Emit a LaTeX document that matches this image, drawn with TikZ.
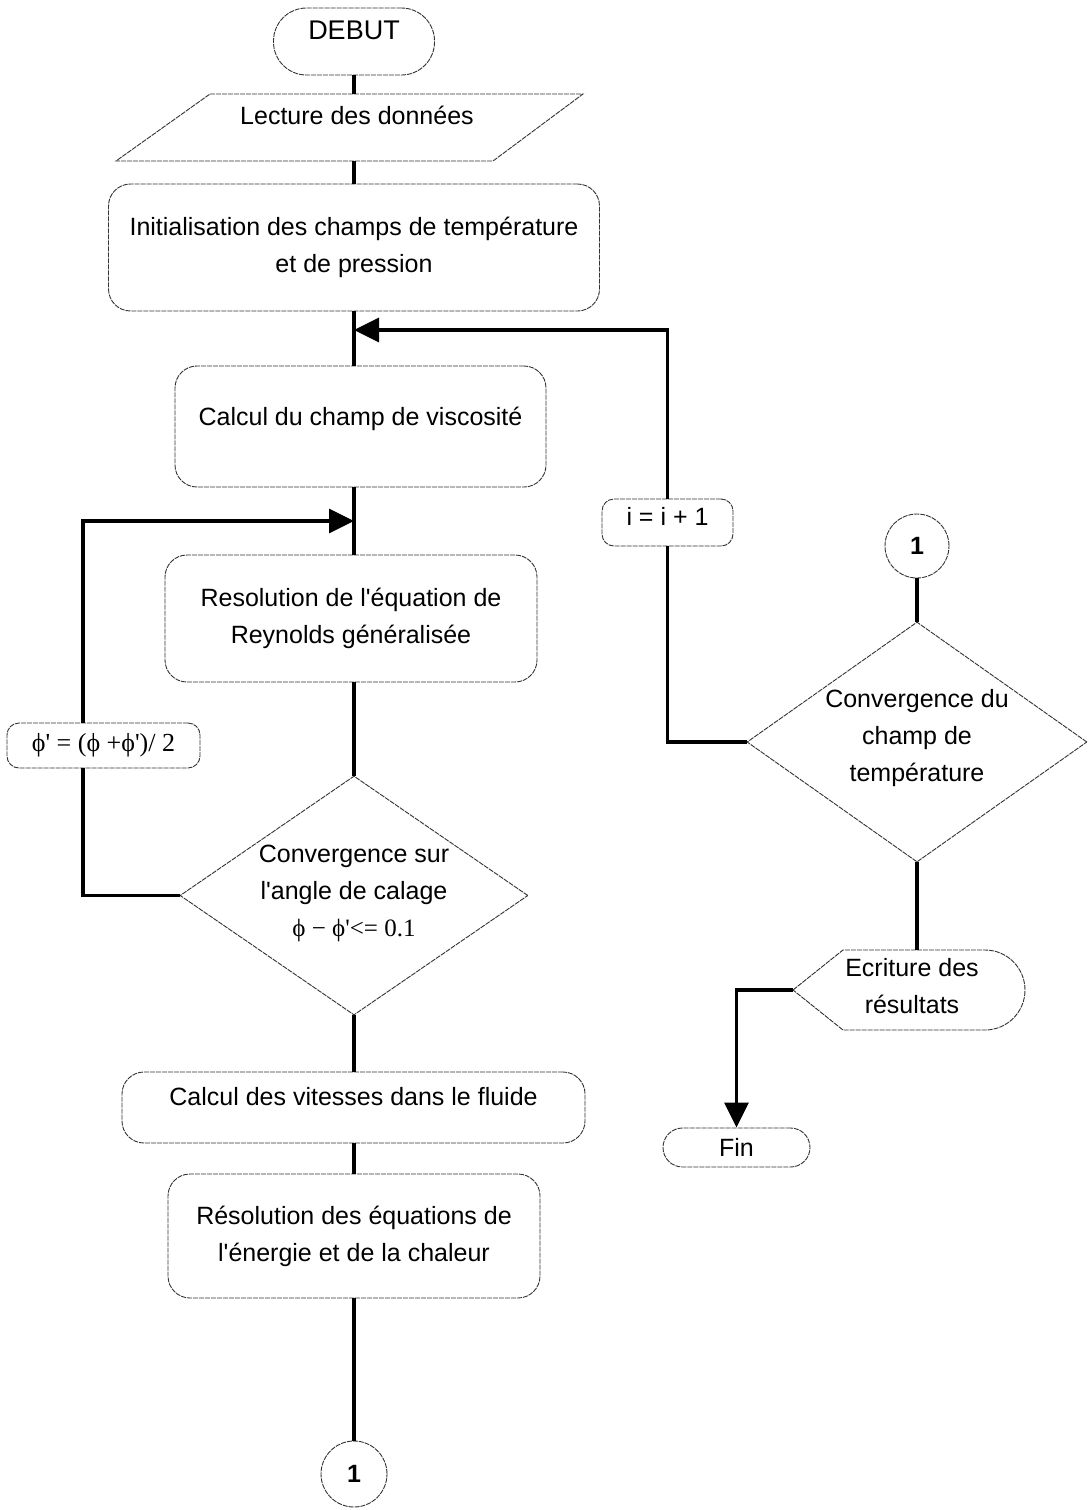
\documentclass[tikz,border=0pt]{standalone}
\usepackage{fontspec}
\setmainfont{Liberation Sans}
\newfontfamily\tnr{Liberation Serif}
\usetikzlibrary{shapes.geometric,arrows.meta}
\newcommand{\apos}{\textquotesingle}
\tikzset{
  outline/.style={draw=black!80, line width=0.9pt, dash pattern=on 5pt off 1pt},
  box/.style={outline, rectangle, rounded corners=22pt, align=center, inner sep=0pt, font=\fontsize{25}{37}\selectfont},
  txt/.style={align=center, inner sep=0pt, font=\fontsize{25}{37}\selectfont},
  conn/.style={draw=black, line width=3.2pt},
  arr/.style={conn, -{Triangle[length=25pt,width=24pt]}},
  decision/.style={outline, diamond, inner sep=0pt},
  connector/.style={outline, circle, inner sep=0pt, font=\fontsize{25}{30}\selectfont\bfseries}
}
\begin{document}
\begin{tikzpicture}[x=1pt,y=-1pt]
\useasboundingbox (0,0) rectangle (1090,1510);
\fill[white] (0,0) rectangle (1090,1510);

% start
\node[box, rounded corners=33pt, minimum width=161pt, minimum height=67pt, text depth=22pt, font=\fontsize{27}{30}\selectfont] (debut) at (354,41.5) {DEBUT};

% input parallelogram
\coordinate (lecA) at (210,94);
\coordinate (lecB) at (583,94);
\coordinate (lecC) at (493,161);
\coordinate (lecD) at (116,161);
\coordinate (lectop) at (354,94);
\coordinate (lecbot) at (354,161);
\draw[outline] (lecA) -- (lecB) -- (lecC) -- (lecD) -- cycle;
\node[txt] (lecture) at (357,115) {Lecture des données};

\node[box, minimum width=491pt, minimum height=127pt] (init) at (354,247.5) {Initialisation des champs de température\\et de pression};

\node[box, minimum width=371pt, minimum height=121pt, text depth=20pt] (visc) at (360.5,426.5) {Calcul du champ de viscosité};

\node[box, minimum width=372pt, minimum height=127pt] (reyn) at (351,618.5) {Resolution de l\apos équation de\\Reynolds généralisée};

\node[decision, minimum width=348pt, minimum height=239pt] (d1) at (354,895.5) {};
\node[txt] (d1text) at (354,893) {Convergence sur\\l\apos angle de calage\\{\tnr ϕ − ϕ\apos<= 0.1}};

\node[box, minimum width=463pt, minimum height=71pt, text depth=22pt] (vit) at (353.5,1107.5) {Calcul des vitesses dans le fluide};

\node[box, minimum width=372pt, minimum height=124pt] (res) at (354,1236) {Résolution des équations de\\l\apos énergie et de la chaleur};

\node[connector, minimum size=66pt] (c1) at (354,1474) {1};

% feedback boxes
\node[box, rounded corners=12pt, minimum width=193pt, minimum height=45pt, font=\fontsize{26}{30}\selectfont\tnr] (phi) at (103.5,745.5) {ϕ\apos{} = (ϕ +ϕ\apos)/ 2};
\node[box, rounded corners=12pt, minimum width=131pt, minimum height=47pt, text depth=12pt] (iinc) at (667.5,522.5) {i = i + 1};
\coordinate (lx) at (83,0);

% right column
\node[connector, minimum size=64pt] (c2) at (917,546) {1};
\node[decision, minimum width=340pt, minimum height=240pt] (d2) at (917,742) {};
\node[txt] (d2text) at (917,738) {Convergence du\\champ de\\température};

\coordinate (eL) at (793,990);
\coordinate (eTL) at (843,950);
\coordinate (eTR) at (985,950);
\coordinate (eBR) at (985,1030);
\coordinate (eBL) at (843,1030);
\coordinate (ecrtop) at (917,950);
\draw[outline] (eL) -- (eTL) -- (eTR) arc[start angle=90, end angle=-90, radius=40pt] -- (eBL) -- cycle;
\node[txt] (ecr) at (912,986) {Ecriture des\\résultats};

\node[box, rounded corners=19.5pt, minimum width=147pt, minimum height=39pt] (fin) at (736.5,1147.5) {Fin};

% junction points
\coordinate (j1) at (354,330);
\coordinate (j2) at (354,521);

% main connectors
\draw[conn] (debut.south) -- (lectop);
\draw[conn] (lecbot) -- (init.south |- lecbot) -- (init.north);
\draw[conn] (init.south) -- (init.south |- visc.north);
\draw[conn] (init.south |- visc.south) -- (reyn.north -| init.south);
\draw[conn] (reyn.south -| d1.north) -- (d1.north);
\draw[conn] (d1.south) -- (d1.south |- vit.north);
\draw[conn] (vit.south -| res.north) -- (res.north);
\draw[conn] (res.south) -- (c1.north);

% inner loop
\draw[conn] (d1.west) -- (lx |- d1.west) -- (lx |- phi.south);
\draw[arr] (lx |- phi.north) -- (lx |- j2) -- (j2);

% outer loop
\draw[conn] (d2.west) -- (iinc.south |- d2.west) -- (iinc.south);
\draw[arr] (iinc.north) -- (iinc.north |- j1) -- (j1);

% right column connectors
\draw[conn] (c2.south) -- (d2.north);
\draw[conn] (d2.south) -- (ecrtop);
\draw[arr] (eL) -- (fin.north |- eL) -- (fin.north);
\end{tikzpicture}
\end{document}
